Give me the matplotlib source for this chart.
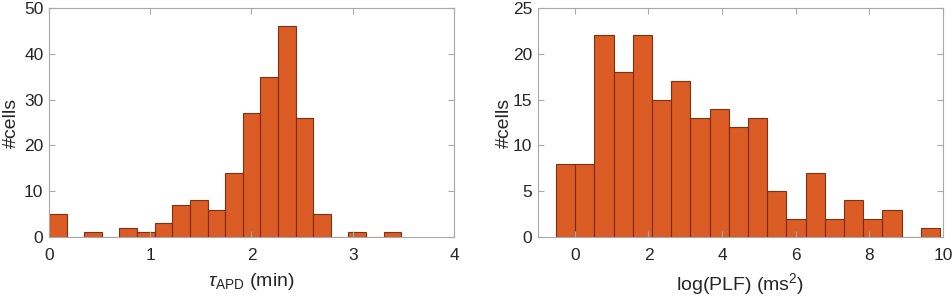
import matplotlib
matplotlib.use("Agg")
import matplotlib.pyplot as plt
import numpy as np

# left histogram: tau_APD (min)
tau_start = 0.0
tau_width = 0.174
tau_counts = [5, 0, 1, 0, 2, 1, 3, 7, 8, 6, 14, 27, 35, 46, 26, 5, 0, 1, 0, 1]

# right histogram: log(PLF) (ms^2)
plf_start = -0.51
plf_width = 0.5215
plf_counts = [8, 8, 22, 18, 22, 15, 17, 13, 14, 12, 13, 5, 2, 7, 2, 4, 2, 3, 0, 1]

plt.rcParams["font.family"] = ["Liberation Sans", "DejaVu Sans"]
plt.rcParams["mathtext.fontset"] = "custom"
plt.rcParams["mathtext.rm"] = "Liberation Sans"
plt.rcParams["mathtext.it"] = "Liberation Sans:italic"

face = "#D95319"
edge = "#7a2a0c"
frame = "#a8a8a8"
text_color = "#262626"

fig = plt.figure(figsize=(9.53, 2.99), dpi=100)
ax1 = fig.add_axes([49 / 953, 62 / 299, 405 / 953, 229 / 299])
ax2 = fig.add_axes([538 / 953, 62 / 299, 405 / 953, 229 / 299])


def draw_hist(ax, start, width, counts):
    edges = start + width * np.arange(len(counts) + 1)
    ax.hist(edges[:-1], bins=edges, weights=counts, color=face,
            edgecolor=edge, linewidth=0.8, alpha=0.95)
    for side in ax.spines.values():
        side.set_color(frame)
        side.set_linewidth(0.8)
    ax.tick_params(direction="in", top=True, right=True, length=4,
                   color=frame, labelcolor=text_color, labelsize=12.5)
    ax.tick_params(axis="x", pad=8)
    ax.tick_params(axis="y", pad=4)


draw_hist(ax1, tau_start, tau_width, tau_counts)
ax1.set_xlim(0, 4)
ax1.set_ylim(0, 50)
ax1.set_xticks([0, 1, 2, 3, 4])
ax1.set_yticks([0, 10, 20, 30, 40, 50])
ax1.set_xlabel(r"$\tau_{\mathrm{APD}}$ (min)", fontsize=14, color=text_color, labelpad=6)
ax1.set_ylabel("#cells", fontsize=14, color=text_color, va="center")
ax1.yaxis.set_label_coords(-38 / 405, 0.5)

draw_hist(ax2, plf_start, plf_width, plf_counts)
ax2.set_xlim(-1, 10)
ax2.set_ylim(0, 25)
ax2.set_xticks([0, 2, 4, 6, 8, 10])
ax2.set_yticks([0, 5, 10, 15, 20, 25])
ax2.set_xlabel(r"log(PLF) (ms$^2$)", fontsize=14, color=text_color, labelpad=6)
ax2.set_ylabel("#cells", fontsize=14, color=text_color, va="center")
ax2.yaxis.set_label_coords(-34 / 405, 0.5)

fig.savefig("out.png", dpi=100)
